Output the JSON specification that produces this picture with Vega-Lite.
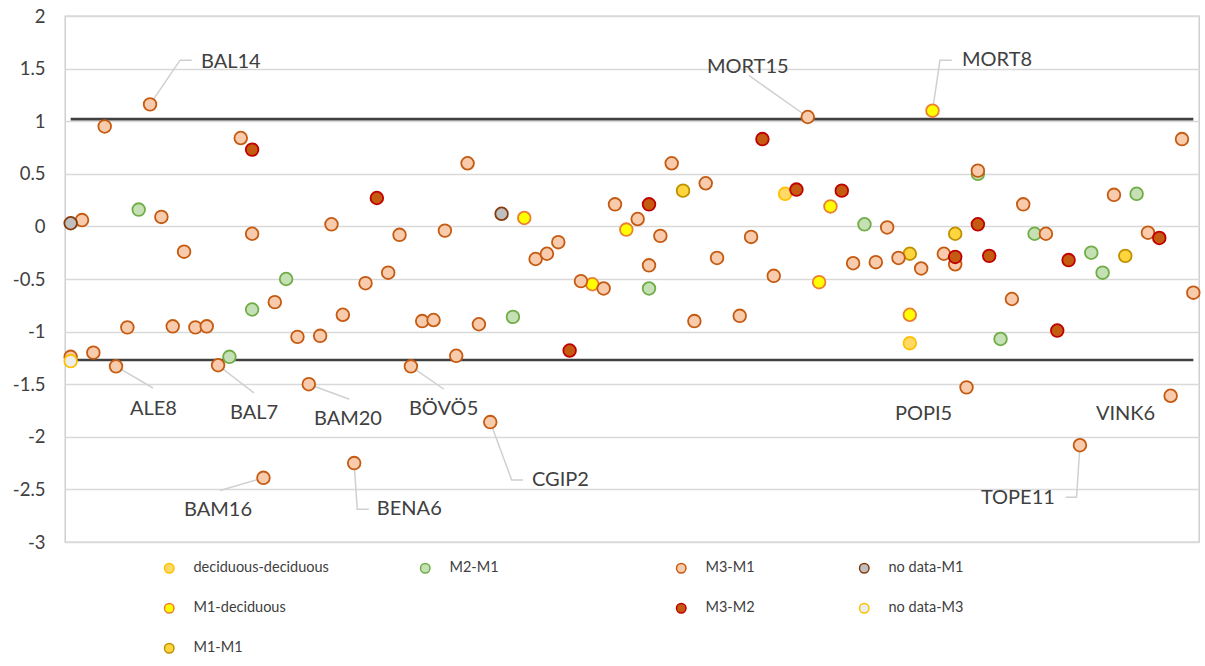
{
  "$schema": "https://vega.github.io/schema/vega-lite/v6.json",
  "width": 1134,
  "height": 526,
  "autosize": {"type": "none"},
  "padding": {"left": 65, "top": 16, "right": 6, "bottom": 124},
  "background": "white",
  "config": {
    "view": {"stroke": "#C8C8C8", "strokeWidth": 1.3},
    "font": "Lato",
    "axisY": {
      "title": null,
      "values": [-3, -2.5, -2, -1.5, -1, -0.5, 0, 0.5, 1, 1.5, 2],
      "labelExpr": "toString(datum.value)",
      "grid": true, "gridColor": "#D9D9D9", "gridWidth": 1.3,
      "domain": false, "ticks": false, "labelPadding": 20,
      "labelFont": "Lato", "labelFontSize": 18.5, "labelColor": "#404040"
    }
  },
  "resolve": {"scale": {"fill": "independent"}},
  "datasets": {
    "pts": [
      {"x": 63, "y": 0.31, "s": "deciduous-deciduous"},
      {"x": 74, "y": -1.11, "s": "deciduous-deciduous"},
      {"x": 40, "y": 0.08, "s": "M1-deciduous"},
      {"x": 46, "y": -0.55, "s": "M1-deciduous"},
      {"x": 49, "y": -0.03, "s": "M1-deciduous"},
      {"x": 66, "y": -0.53, "s": "M1-deciduous"},
      {"x": 67, "y": 0.19, "s": "M1-deciduous"},
      {"x": 74, "y": -0.84, "s": "M1-deciduous"},
      {"x": 76, "y": 1.10, "s": "M1-deciduous"},
      {"x": 54, "y": 0.34, "s": "M1-M1"},
      {"x": 74, "y": -0.26, "s": "M1-M1"},
      {"x": 78, "y": -0.07, "s": "M1-M1"},
      {"x": 93, "y": -0.28, "s": "M1-M1"},
      {"x": 6, "y": 0.16, "s": "M2-M1"},
      {"x": 14, "y": -1.24, "s": "M2-M1"},
      {"x": 16, "y": -0.79, "s": "M2-M1"},
      {"x": 19, "y": -0.50, "s": "M2-M1"},
      {"x": 39, "y": -0.86, "s": "M2-M1"},
      {"x": 51, "y": -0.59, "s": "M2-M1"},
      {"x": 70, "y": 0.02, "s": "M2-M1"},
      {"x": 80, "y": 0.50, "s": "M2-M1"},
      {"x": 82, "y": -1.07, "s": "M2-M1"},
      {"x": 85, "y": -0.07, "s": "M2-M1"},
      {"x": 90, "y": -0.25, "s": "M2-M1"},
      {"x": 91, "y": -0.44, "s": "M2-M1"},
      {"x": 94, "y": 0.31, "s": "M2-M1"},
      {"x": 0, "y": -1.24, "s": "M3-M1"},
      {"x": 1, "y": 0.06, "s": "M3-M1"},
      {"x": 2, "y": -1.20, "s": "M3-M1"},
      {"x": 3, "y": 0.95, "s": "M3-M1"},
      {"x": 4, "y": -1.33, "s": "M3-M1"},
      {"x": 5, "y": -0.96, "s": "M3-M1"},
      {"x": 7, "y": 1.16, "s": "M3-M1"},
      {"x": 8, "y": 0.09, "s": "M3-M1"},
      {"x": 9, "y": -0.95, "s": "M3-M1"},
      {"x": 10, "y": -0.24, "s": "M3-M1"},
      {"x": 11, "y": -0.96, "s": "M3-M1"},
      {"x": 12, "y": -0.95, "s": "M3-M1"},
      {"x": 13, "y": -1.32, "s": "M3-M1"},
      {"x": 15, "y": 0.84, "s": "M3-M1"},
      {"x": 16, "y": -0.07, "s": "M3-M1"},
      {"x": 17, "y": -2.39, "s": "M3-M1"},
      {"x": 18, "y": -0.72, "s": "M3-M1"},
      {"x": 20, "y": -1.05, "s": "M3-M1"},
      {"x": 21, "y": -1.50, "s": "M3-M1"},
      {"x": 22, "y": -1.04, "s": "M3-M1"},
      {"x": 23, "y": 0.02, "s": "M3-M1"},
      {"x": 24, "y": -0.84, "s": "M3-M1"},
      {"x": 25, "y": -2.25, "s": "M3-M1"},
      {"x": 26, "y": -0.54, "s": "M3-M1"},
      {"x": 28, "y": -0.44, "s": "M3-M1"},
      {"x": 29, "y": -0.08, "s": "M3-M1"},
      {"x": 30, "y": -1.33, "s": "M3-M1"},
      {"x": 31, "y": -0.90, "s": "M3-M1"},
      {"x": 32, "y": -0.89, "s": "M3-M1"},
      {"x": 33, "y": -0.04, "s": "M3-M1"},
      {"x": 34, "y": -1.23, "s": "M3-M1"},
      {"x": 35, "y": 0.60, "s": "M3-M1"},
      {"x": 36, "y": -0.93, "s": "M3-M1"},
      {"x": 37, "y": -1.86, "s": "M3-M1"},
      {"x": 41, "y": -0.31, "s": "M3-M1"},
      {"x": 42, "y": -0.26, "s": "M3-M1"},
      {"x": 43, "y": -0.15, "s": "M3-M1"},
      {"x": 45, "y": -0.52, "s": "M3-M1"},
      {"x": 47, "y": -0.59, "s": "M3-M1"},
      {"x": 48, "y": 0.21, "s": "M3-M1"},
      {"x": 50, "y": 0.07, "s": "M3-M1"},
      {"x": 51, "y": -0.37, "s": "M3-M1"},
      {"x": 52, "y": -0.09, "s": "M3-M1"},
      {"x": 53, "y": 0.60, "s": "M3-M1"},
      {"x": 55, "y": -0.90, "s": "M3-M1"},
      {"x": 56, "y": 0.41, "s": "M3-M1"},
      {"x": 57, "y": -0.30, "s": "M3-M1"},
      {"x": 59, "y": -0.85, "s": "M3-M1"},
      {"x": 60, "y": -0.10, "s": "M3-M1"},
      {"x": 62, "y": -0.47, "s": "M3-M1"},
      {"x": 65, "y": 1.04, "s": "M3-M1"},
      {"x": 69, "y": -0.35, "s": "M3-M1"},
      {"x": 71, "y": -0.34, "s": "M3-M1"},
      {"x": 72, "y": -0.01, "s": "M3-M1"},
      {"x": 73, "y": -0.30, "s": "M3-M1"},
      {"x": 75, "y": -0.40, "s": "M3-M1"},
      {"x": 77, "y": -0.26, "s": "M3-M1"},
      {"x": 78, "y": -0.36, "s": "M3-M1"},
      {"x": 79, "y": -1.53, "s": "M3-M1"},
      {"x": 80, "y": 0.53, "s": "M3-M1"},
      {"x": 83, "y": -0.69, "s": "M3-M1"},
      {"x": 84, "y": 0.21, "s": "M3-M1"},
      {"x": 86, "y": -0.07, "s": "M3-M1"},
      {"x": 89, "y": -2.08, "s": "M3-M1"},
      {"x": 92, "y": 0.30, "s": "M3-M1"},
      {"x": 95, "y": -0.06, "s": "M3-M1"},
      {"x": 97, "y": -1.61, "s": "M3-M1"},
      {"x": 98, "y": 0.83, "s": "M3-M1"},
      {"x": 99, "y": -0.63, "s": "M3-M1"},
      {"x": 16, "y": 0.73, "s": "M3-M2"},
      {"x": 27, "y": 0.27, "s": "M3-M2"},
      {"x": 44, "y": -1.18, "s": "M3-M2"},
      {"x": 51, "y": 0.21, "s": "M3-M2"},
      {"x": 61, "y": 0.83, "s": "M3-M2"},
      {"x": 64, "y": 0.35, "s": "M3-M2"},
      {"x": 68, "y": 0.34, "s": "M3-M2"},
      {"x": 78, "y": -0.29, "s": "M3-M2"},
      {"x": 80, "y": 0.02, "s": "M3-M2"},
      {"x": 81, "y": -0.28, "s": "M3-M2"},
      {"x": 87, "y": -0.99, "s": "M3-M2"},
      {"x": 88, "y": -0.32, "s": "M3-M2"},
      {"x": 96, "y": -0.11, "s": "M3-M2"}
    ],
    "nd": [
      {"x": 0, "y": 0.03, "s": "no data-M1"},
      {"x": 38, "y": 0.12, "s": "no data-M1"},
      {"x": 0, "y": -1.28, "s": "no data-M3"}
    ],
    "refs": [
      {"x": 0, "x2": 99, "y": 1.02},
      {"x": 0, "x2": 99, "y": -1.27}
    ],
    "leaders": [
      {"k": "BAL14", "o": 0, "x": 7, "y": 1.16},
      {"k": "BAL14", "o": 1, "x": 9.65, "y": 1.58},
      {"k": "BAL14", "o": 2, "x": 10.67, "y": 1.58},
      {"k": "MORT15", "o": 0, "x": 59.8, "y": 1.435},
      {"k": "MORT15", "o": 1, "x": 65, "y": 1.04},
      {"k": "MORT8", "o": 0, "x": 76, "y": 1.10},
      {"k": "MORT8", "o": 1, "x": 76.66, "y": 1.58},
      {"k": "MORT8", "o": 2, "x": 77.7, "y": 1.58},
      {"k": "ALE8", "o": 0, "x": 4, "y": -1.33},
      {"k": "ALE8", "o": 1, "x": 7.26, "y": -1.536},
      {"k": "BAL7", "o": 0, "x": 13, "y": -1.32},
      {"k": "BAL7", "o": 1, "x": 16.16, "y": -1.583},
      {"k": "BAM20", "o": 0, "x": 21, "y": -1.50},
      {"k": "BAM20", "o": 1, "x": 24.57, "y": -1.643},
      {"k": "BAM16", "o": 0, "x": 17, "y": -2.39},
      {"k": "BAM16", "o": 1, "x": 13.17, "y": -2.51},
      {"k": "BENA6", "o": 0, "x": 25, "y": -2.25},
      {"k": "BENA6", "o": 1, "x": 25.27, "y": -2.688},
      {"k": "BENA6", "o": 2, "x": 26.3, "y": -2.688},
      {"k": "BÖVÖ5", "o": 0, "x": 30, "y": -1.33},
      {"k": "BÖVÖ5", "o": 1, "x": 32.92, "y": -1.548},
      {"k": "CGIP2", "o": 0, "x": 37, "y": -1.86},
      {"k": "CGIP2", "o": 1, "x": 38.89, "y": -2.41},
      {"k": "CGIP2", "o": 2, "x": 39.88, "y": -2.41},
      {"k": "TOPE11", "o": 0, "x": 89, "y": -2.08},
      {"k": "TOPE11", "o": 1, "x": 88.7, "y": -2.574},
      {"k": "TOPE11", "o": 2, "x": 87.74, "y": -2.574}
    ],
    "labels": [
      {"k": "BAL14", "x": 11.49, "y": 1.56},
      {"k": "MORT15", "x": 56.11, "y": 1.517},
      {"k": "MORT8", "x": 78.6, "y": 1.579},
      {"k": "ALE8", "x": 5.23, "y": -1.735},
      {"k": "BAL7", "x": 14.05, "y": -1.77},
      {"k": "BAM20", "x": 21.45, "y": -1.83},
      {"k": "BAM16", "x": 9.99, "y": -2.697},
      {"k": "BENA6", "x": 27.0, "y": -2.69},
      {"k": "BÖVÖ5", "x": 29.83, "y": -1.732},
      {"k": "CGIP2", "x": 40.68, "y": -2.412},
      {"k": "POPI5", "x": 72.69, "y": -1.787},
      {"k": "VINK6", "x": 90.41, "y": -1.787},
      {"k": "TOPE11", "x": 80.27, "y": -2.583}
    ]
  },
  "layer": [
    {
      "data": {"name": "refs"},
      "mark": {"type": "rule", "color": "#404040", "strokeWidth": 2.6},
      "encoding": {
        "x": {"field": "x", "type": "quantitative", "scale": {"domain": [-0.5, 99.5], "nice": false, "zero": false}, "axis": null},
        "x2": {"field": "x2"},
        "y": {"field": "y", "type": "quantitative", "scale": {"domain": [-3, 2], "nice": false, "zero": false}}
      }
    },
    {
      "data": {"name": "leaders"},
      "mark": {"type": "line", "color": "#D0D0D0", "strokeWidth": 1.5},
      "encoding": {
        "x": {"field": "x", "type": "quantitative", "scale": {"domain": [-0.5, 99.5], "nice": false, "zero": false}, "axis": null},
        "y": {"field": "y", "type": "quantitative", "scale": {"domain": [-3, 2], "nice": false, "zero": false}},
        "detail": {"field": "k"},
        "order": {"field": "o", "type": "quantitative"}
      }
    },
    {
      "data": {"name": "pts"},
      "mark": {"type": "circle", "size": 160, "strokeWidth": 1.8, "opacity": 1},
      "encoding": {
        "x": {"field": "x", "type": "quantitative", "scale": {"domain": [-0.5, 99.5], "nice": false, "zero": false}, "axis": null},
        "y": {"field": "y", "type": "quantitative", "scale": {"domain": [-3, 2], "nice": false, "zero": false}},
        "fill": {
          "field": "s", "type": "nominal",
          "scale": {
            "domain": ["deciduous-deciduous", "M2-M1", "M3-M1", "M1-deciduous", " ", "M3-M2", "M1-M1"],
            "range": ["#FFD966", "#C5E0B4", "#F8CBAD", "#FFFF00", "transparent", "#C55A11", "#FFD53D"]
          },
          "legend": {
            "title": null, "orient": "none", "legendX": 97, "legendY": 545,
            "values": ["deciduous-deciduous", "M2-M1", "M3-M1", "M1-deciduous", " ", "M3-M2", "M1-M1"],
            "direction": "horizontal",
            "columns": 3, "gridAlign": "all", "columnPadding": 88, "rowPadding": 24,
            "symbolType": "circle", "symbolSize": 90, "symbolStrokeWidth": 1.5, "symbolOpacity": 1,
            "labelFont": "Lato", "labelFontSize": 14.5, "labelColor": "#404040", "labelOffset": 17, "padding": 0,
            "encode": {"symbols": {"update": {"stroke": {"scale": "stroke", "field": "value"}, "strokeWidth": {"value": 1.5}}}}
          }
        },
        "stroke": {
          "field": "s", "type": "nominal",
          "scale": {
            "domain": ["deciduous-deciduous", "M2-M1", "M3-M1", "no data-M1", "M1-deciduous", " ", "M3-M2", "no data-M3", "M1-M1"],
            "range": ["#FFC000", "#70AD47", "#C55A11", "#843C0C", "#ED7D31", "transparent", "#C00000", "#FFC000", "#BF9000"]
          },
          "legend": null
        }
      }
    },
    {
      "data": {"name": "nd"},
      "mark": {"type": "circle", "size": 160, "strokeWidth": 1.8, "opacity": 1},
      "encoding": {
        "x": {"field": "x", "type": "quantitative", "scale": {"domain": [-0.5, 99.5], "nice": false, "zero": false}, "axis": null},
        "y": {"field": "y", "type": "quantitative", "scale": {"domain": [-3, 2], "nice": false, "zero": false}},
        "fill": {
          "field": "s", "type": "nominal",
          "scale": {"domain": ["no data-M1", "no data-M3"], "range": ["#BFBFBF", "#EDEDED"]},
          "legend": {
            "title": null, "orient": "none", "legendX": 792, "legendY": 545,
            "values": ["no data-M1", "no data-M3"],
            "direction": "vertical",
            "columns": 1, "rowPadding": 24,
            "symbolType": "circle", "symbolSize": 90, "symbolStrokeWidth": 1.5, "symbolOpacity": 1,
            "labelFont": "Lato", "labelFontSize": 14.5, "labelColor": "#404040", "labelOffset": 17, "padding": 0,
            "encode": {"symbols": {"update": {"stroke": {"signal": "datum.value === 'no data-M1' ? '#843C0C' : '#FFC000'"}, "strokeWidth": {"value": 1.5}}}}
          }
        },
        "stroke": {
          "field": "s", "type": "nominal",
          "scale": {
            "domain": ["deciduous-deciduous", "M2-M1", "M3-M1", "no data-M1", "M1-deciduous", " ", "M3-M2", "no data-M3", "M1-M1"],
            "range": ["#FFC000", "#70AD47", "#C55A11", "#843C0C", "#ED7D31", "transparent", "#C00000", "#FFC000", "#BF9000"]
          },
          "legend": null
        }
      }
    },
    {
      "data": {"name": "labels"},
      "mark": {"type": "text", "align": "left", "baseline": "middle", "font": "Lato", "fontSize": 20, "color": "#404040"},
      "encoding": {
        "x": {"field": "x", "type": "quantitative", "scale": {"domain": [-0.5, 99.5], "nice": false, "zero": false}, "axis": null},
        "y": {"field": "y", "type": "quantitative", "scale": {"domain": [-3, 2], "nice": false, "zero": false}},
        "text": {"field": "k"}
      }
    }
  ]
}
